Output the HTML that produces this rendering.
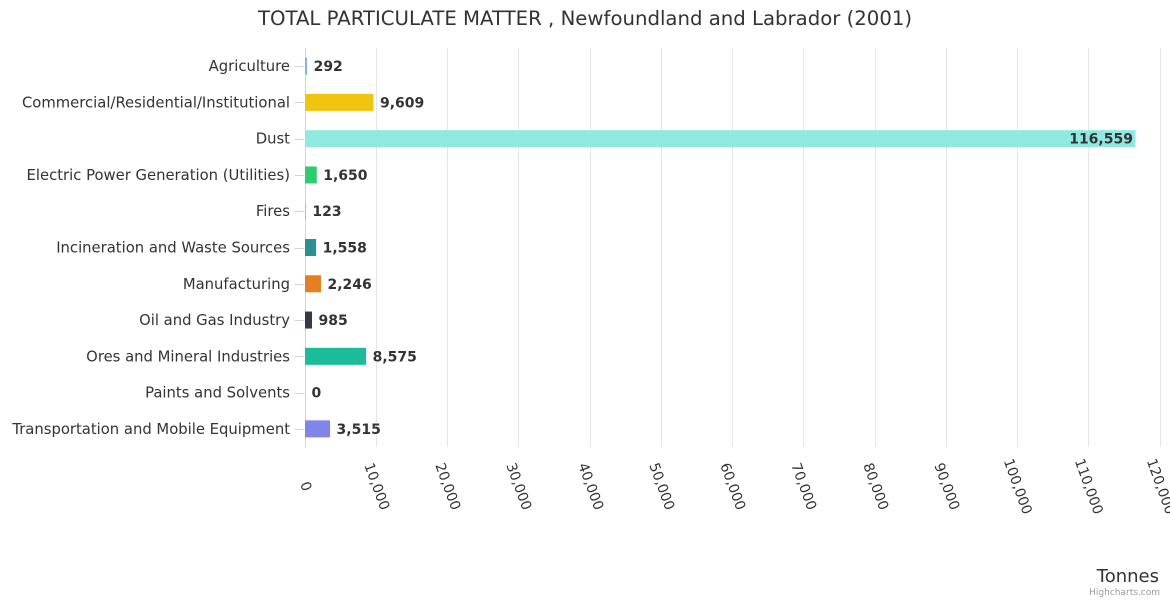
<!DOCTYPE html>
<html><head><meta charset="utf-8"><style>
body{margin:0;background:#fff;font-family:"Liberation Sans","DejaVu Sans",sans-serif;}
svg text{font-family:"DejaVu Sans","Liberation Sans",sans-serif;}
</style></head><body>
<svg id="chart" width="1170" height="600">
<text x="585" y="25" text-anchor="middle" font-size="19.7" fill="#333">TOTAL PARTICULATE MATTER , Newfoundland and Labrador (2001)</text>
<g id="grid"></g><g id="bars"></g><g id="labels"></g><g id="xticks"></g>
<text x="1159" y="582" text-anchor="end" font-size="18" fill="#333">Tonnes</text>
<text x="1160" y="595" text-anchor="end" font-size="9" fill="#999">Highcharts.com</text>
</svg>
<script>
const categories=["Agriculture","Commercial/Residential/Institutional","Dust","Electric Power Generation (Utilities)","Fires","Incineration and Waste Sources","Manufacturing","Oil and Gas Industry","Ores and Mineral Industries","Paints and Solvents","Transportation and Mobile Equipment"];
const values=[292,9609,116559,1650,123,1558,2246,985,8575,0,3515];
const colors=["#7cb5ec","#f1c40f","#90e8e0","#2ecc71","#b0b0d0","#2a9090","#e67e22","#34384a","#1abc9c","#999999","#8085e9"];
const ticks=[0,10000,20000,30000,40000,50000,60000,70000,80000,90000,100000,110000,120000];
const NS="http://www.w3.org/2000/svg";
const X0=304.5,X1=1159.5,YTOP=48,YBOT=447,XMAX=120000;
const xs=v=>X0+(v/XMAX)*(X1-X0);
const rowH=(YBOT-YTOP)/categories.length;
const yc=i=>YTOP+rowH*(i+0.5);
const fmt=v=>v.toLocaleString("en-US");
function mk(tag,attrs,parent){const e=document.createElementNS(NS,tag);for(const k in attrs)e.setAttribute(k,attrs[k]);parent.appendChild(e);return e;}
const grid=document.getElementById("grid"),bars=document.getElementById("bars"),labels=document.getElementById("labels"),xt=document.getElementById("xticks");
ticks.forEach((t,i)=>{
 const x=Math.round(xs(t))+0.5;
 const l=mk("line",{x1:x,x2:x,y1:YTOP,y2:YBOT,stroke:i==0?"#ccd6eb":"#e6e6e6","stroke-width":1},grid);
 
 
 const ty=YBOT+41;
 const tx=mk("text",{x:x-4,y:ty,"font-size":14,fill:"#333",transform:`rotate(70 ${x-4} ${ty})`,"text-anchor":"middle"},xt);
 
 
 tx.textContent=fmt(t);
});
categories.forEach((c,i)=>{
 const y=yc(i);
 const tk=mk("line",{x1:X0-10,x2:X0,y1:Math.round(y)+0.5,y2:Math.round(y)+0.5,stroke:"#ccd6eb"},grid);
 
 
 const lb=mk("text",{x:290,y:y+5,"text-anchor":"end","font-size":14.8,fill:"#333"},labels);
 
 
 lb.textContent=c;
 const w=Math.max(0,xs(values[i])-X0);
 const r=mk("rect",{x:X0+0.5,y:y-8.5,width:w,height:17,fill:colors[i]},bars);
 
 
 const inside=w>800;
 const vt=mk("text",{x:inside?X0+w-2:X0+w+7,y:y+5,"text-anchor":inside?"end":"start","font-size":14,"font-weight":"bold",fill:"#333",stroke:"#fff","stroke-width":inside?0:2,"paint-order":"stroke"},labels);
 
 
 vt.textContent=fmt(values[i]);
});
</script>
</body></html>
